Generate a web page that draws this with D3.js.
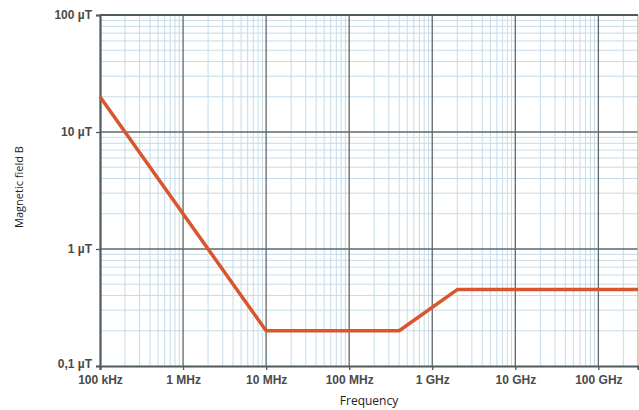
<!DOCTYPE html>
<html><head><meta charset="utf-8">
<script src="https://cdn.jsdelivr.net/npm/d3@7"></script>
<style>body{margin:0;background:#fff}svg{display:block}</style>
</head><body>
<script>
// Data: ICNIRP-style reference levels (frequency in Hz, field in µT)
const freqs = [1e5, 1e7, 4e8, 2e9, 3e11];
const fieldB = [20, 0.2, 0.2, 0.45, 0.45];
const xTickValues = [1e5, 1e6, 1e7, 1e8, 1e9, 1e10, 1e11];
const xTickLabels = ["100 kHz", "1 MHz", "10 MHz", "100 MHz", "1 GHz", "10 GHz", "100 GHz"];
const yTickValues = [0.1, 1, 10, 100];
const yTickLabels = ["0,1 µT", "1 µT", "10 µT", "100 µT"];

const W = 639, H = 410;
const m = {left: 100, top: 15, right: 638, bottom: 366};
const svg = d3.select("body").append("svg").attr("width", W).attr("height", H);
const x = d3.scaleLog().domain([1e5, 3e11]).range([m.left, m.right]);
const y = d3.scaleLog().domain([0.1, 100]).range([m.bottom, m.top]);

// minor grid
const minorX = [], minorY = [];
for (let d = 1e5; d < 3e11; d *= 10) for (let k = 2; k <= 9; k++) if (d*k < 3e11) minorX.push(d*k);
for (let d = 0.1; d < 100; d *= 10) for (let k = 2; k <= 9; k++) minorY.push(d*k);
const g = svg.append("g");
g.selectAll(".mx").data(minorX).join("line")
  .attr("x1", d => x(d)).attr("x2", d => x(d)).attr("y1", m.top).attr("y2", m.bottom)
  .attr("stroke", "#c6dbe8").attr("stroke-width", 1);
g.selectAll(".my").data(minorY).join("line")
  .attr("y1", d => y(d)).attr("y2", d => y(d)).attr("x1", m.left).attr("x2", m.right)
  .attr("stroke", "#c6dbe8").attr("stroke-width", 1);
// major grid
g.selectAll(".Mx").data(xTickValues.slice(1)).join("line")
  .attr("x1", d => x(d)).attr("x2", d => x(d)).attr("y1", m.top).attr("y2", m.bottom)
  .attr("stroke", "#5f6668").attr("stroke-width", 1.3);
g.selectAll(".My").data(yTickValues.slice(1, 3)).join("line")
  .attr("y1", d => y(d)).attr("y2", d => y(d)).attr("x1", m.left).attr("x2", m.right)
  .attr("stroke", "#5f6668").attr("stroke-width", 1.3);
// frame
g.append("line").attr("x1", m.right).attr("x2", m.right).attr("y1", m.top).attr("y2", m.bottom)
  .attr("stroke", "#e3a08c").attr("stroke-width", 1.2);
g.append("line").attr("x1", m.left).attr("x2", m.right).attr("y1", m.top).attr("y2", m.top)
  .attr("stroke", "#4f5a5e").attr("stroke-width", 2);

// axes
const fontTick = "'Liberation Sans', Arial, sans-serif";
const xAxis = d3.axisBottom(x).tickValues(xTickValues).tickFormat((d, i) => xTickLabels[i]).tickSize(4).tickPadding(5);
const yAxis = d3.axisLeft(y).tickValues(yTickValues).tickFormat((d, i) => yTickLabels[i]).tickSize(4).tickPadding(4);
const gx = svg.append("g").attr("transform", `translate(0,${m.bottom})`).call(xAxis);
const gy = svg.append("g").attr("transform", `translate(${m.left},0)`).call(yAxis);
[gx, gy].forEach(a => {
  a.select(".domain").attr("stroke", "#4f5a5e").attr("stroke-width", 2.2);
  a.selectAll(".tick line").attr("stroke", "#4f5a5e").attr("stroke-width", 1.3);
  a.selectAll("text").attr("font-family", fontTick).attr("font-size", 12).attr("font-weight", "bold").attr("fill", "#4a4a4a");
});
gy.selectAll(".tick").filter(d => d === 0.1).select("text").attr("dy", "0.1em");

// data line
svg.append("path").datum(freqs.map((f, i) => [f, fieldB[i]]))
  .attr("d", d3.line().x(d => x(d[0])).y(d => y(d[1])))
  .attr("fill", "none").attr("stroke", "#d9552e").attr("stroke-width", 3.5).attr("stroke-linejoin", "round");

// titles
svg.append("text").attr("x", 369).attr("y", 405).attr("text-anchor", "middle")
  .attr("font-family", "'Open Sans', sans-serif").attr("font-size", 12).attr("fill", "#222").text("Frequency");
svg.append("text").attr("transform", "translate(23,187) rotate(-90)").attr("text-anchor", "middle")
  .attr("font-family", "'Open Sans', sans-serif").attr("font-size", 11).attr("fill", "#222").text("Magnetic field B");
</script>
</body></html>
